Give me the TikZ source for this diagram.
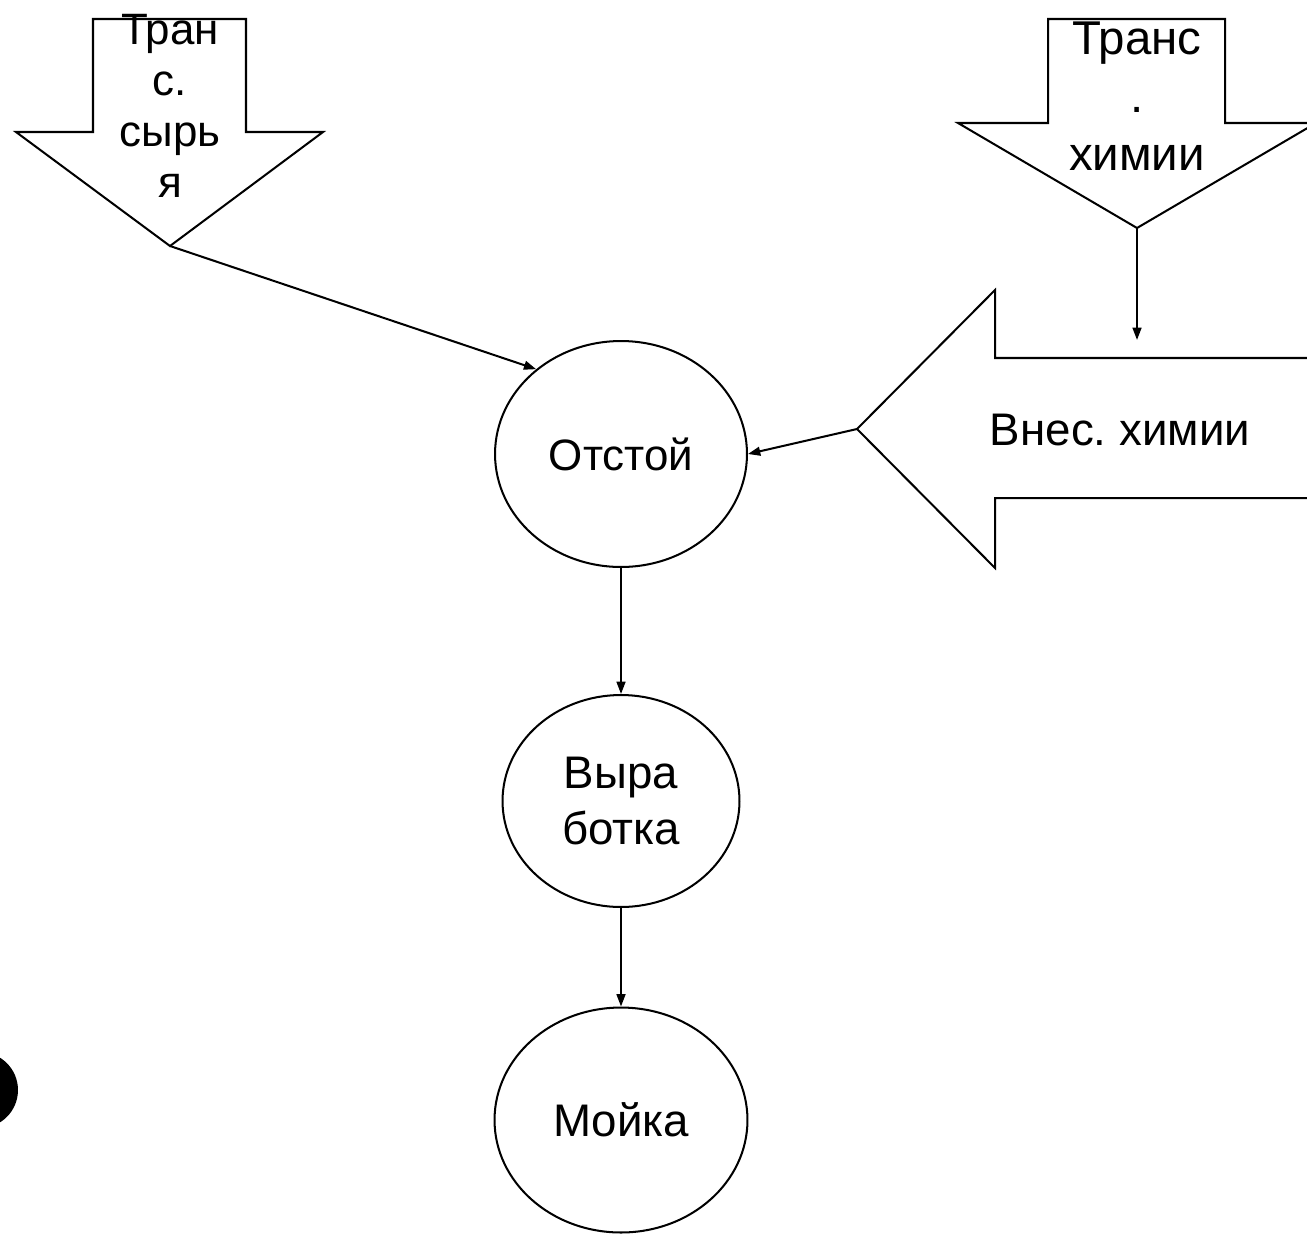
\documentclass[tikz,border=0pt]{standalone}
\usepackage{fontspec}
\setmainfont{Liberation Sans}
\usepackage{tikz}
\usetikzlibrary{arrows.meta,shapes.geometric}
\frenchspacing

\begin{document}
\begin{tikzpicture}[x=0.02cm, y=-0.02cm, >={Triangle[length=7pt,width=5pt]}, line width=1.15pt,
    etap/.style={draw, ellipse, inner sep=0pt, align=center, font=\fontsize{26}{32}\selectfont}]
    \useasboundingbox (0,0) rectangle (1307,1234);
    \clip (0,0) rectangle (1307,1234);
    % стрелка "Транс. сырья" (слева вверху)
    \draw (93,19)--(246,19)--(246,132)--(323,132)--(170,246)--(16,132)--(93,132)--cycle;
    \coordinate (syrjo) at (170,246);
    \node[align=center,font=\fontsize{25}{29}\selectfont] (tsyrja) at (170,106){Тран\\с.\\сырь\\я};
    % стрелка "Транс. химии" (справа вверху)
    \draw (1048,19)--(1225,19)--(1225,123)--(1316,123)--(1137,228)--(958,123)--(1048,123)--cycle;
    \coordinate (himija) at (1137,228);
    \node[align=center,font=\fontsize{27}{33}\selectfont] (thimii) at (1137,96){Транс\\.\\химии};
    % большая стрелка "Внес. химии"
    \draw (1330,358)--(995,358)--(995,290)--(857,429)--(995,568)--(995,498)--(1330,498);
    \coordinate (vnes) at (857,429);
    \coordinate (vvod) at (1137,340);
    \node[font=\fontsize{26}{32}\selectfont] (tvnes) at (1120,430){Внес. химии};
    % этапы
    \node[etap,minimum width=5.04cm,minimum height=4.52cm,font=\fontsize{25}{30}\selectfont] (otstoj) at (621,454){Отстой};
    \node[etap,minimum width=4.74cm,minimum height=4.24cm] (vyrab) at (621,801){Выра\\ботка};
    \node[etap,minimum width=5.06cm,minimum height=4.5cm] (mojka) at (621,1120){Мойка};
    % связи
    \draw[->] (syrjo) -- (otstoj.135);
    \draw[->] (himija) -- (vvod);
    \draw[->] (vnes) -- (otstoj.east);
    \draw[->] (otstoj.south) -- (vyrab.north);
    \draw[->] (vyrab.south) -- (mojka.north);
    % черный круг у края
    \fill (-20,1090) circle (0.76cm);
\end{tikzpicture}
\end{document}
